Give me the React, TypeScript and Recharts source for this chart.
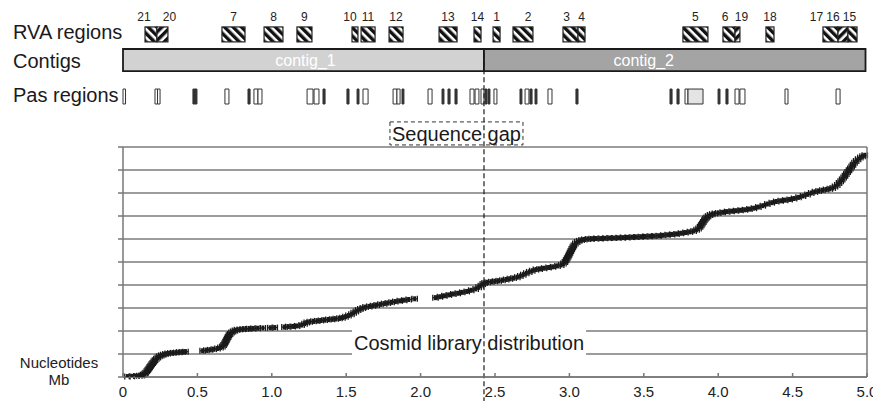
import React from 'react';
import {
  ScatterChart,
  Scatter,
  XAxis,
  YAxis,
  CartesianGrid,
  ReferenceArea,
  ReferenceLine,
  ErrorBar,
} from 'recharts';

// x is genome position (Mb), y is the cosmid rank in grid units (0..10)
const xTicks = [0, 0.5, 1, 1.5, 2, 2.5, 3, 3.5, 4, 4.5, 5];
const yTicks = [0, 1, 2, 3, 4, 5, 6, 7, 8, 9, 10];

const cosmidPoints: [number, number][] = [
  [0.03, 0.02], [0.06, 0.03], [0.09, 0.04], [0.11, 0.05],
  [0.125, 0.07], [0.135, 0.1], [0.145, 0.14], [0.152, 0.19], [0.16, 0.25], [0.167, 0.31],
  [0.174, 0.37], [0.18, 0.43], [0.186, 0.49], [0.193, 0.55], [0.2, 0.61], [0.207, 0.67],
  [0.215, 0.73], [0.224, 0.79], [0.234, 0.85], [0.245, 0.9], [0.257, 0.94], [0.27, 0.97], [0.285, 1.0],
  [0.3, 1.02], [0.318, 1.04], [0.338, 1.05], [0.358, 1.06], [0.378, 1.08], [0.4, 1.09], [0.42, 1.1],
  [0.535, 1.14], [0.56, 1.16], [0.585, 1.18], [0.61, 1.21], [0.635, 1.24], [0.655, 1.28], [0.668, 1.33],
  [0.676, 1.39], [0.683, 1.46], [0.689, 1.53], [0.695, 1.6], [0.7, 1.67], [0.706, 1.74],
  [0.712, 1.81], [0.72, 1.87], [0.729, 1.93], [0.74, 1.98], [0.752, 2.02], [0.766, 2.05],
  [0.785, 2.07], [0.805, 2.08], [0.825, 2.09], [0.848, 2.1], [0.875, 2.11], [0.905, 2.12],
  [0.94, 2.13], [0.99, 2.14], [1.02, 2.15],
  [1.085, 2.17], [1.11, 2.19], [1.14, 2.2], [1.17, 2.22], [1.2, 2.26], [1.22, 2.32], [1.235, 2.37],
  [1.255, 2.4], [1.28, 2.42], [1.305, 2.44], [1.33, 2.46], [1.355, 2.48], [1.38, 2.5], [1.405, 2.51],
  [1.43, 2.53], [1.455, 2.55],
  [1.475, 2.58], [1.495, 2.62], [1.515, 2.67], [1.535, 2.73], [1.55, 2.79], [1.565, 2.85],
  [1.58, 2.91], [1.595, 2.96], [1.612, 3.0], [1.63, 3.04],
  [1.655, 3.07], [1.68, 3.1], [1.705, 3.13], [1.73, 3.16], [1.755, 3.19], [1.78, 3.22],
  [1.805, 3.25], [1.83, 3.28], [1.86, 3.31], [1.89, 3.34], [1.92, 3.37], [1.96, 3.4],
  [2.1, 3.45], [2.13, 3.49], [2.16, 3.53], [2.19, 3.57], [2.22, 3.61], [2.25, 3.64], [2.28, 3.68],
  [2.31, 3.72], [2.34, 3.77], [2.37, 3.83], [2.39, 3.9], [2.405, 3.97], [2.418, 4.04], [2.43, 4.09],
  [2.45, 4.12], [2.475, 4.14], [2.5, 4.16], [2.525, 4.18], [2.55, 4.21], [2.575, 4.24], [2.6, 4.27],
  [2.625, 4.3], [2.65, 4.34], [2.67, 4.39], [2.69, 4.45], [2.71, 4.51], [2.73, 4.57], [2.75, 4.62],
  [2.775, 4.67], [2.8, 4.7], [2.83, 4.73], [2.86, 4.76], [2.89, 4.79], [2.92, 4.83], [2.945, 4.87],
  [2.96, 4.93], [2.97, 5.0], [2.978, 5.08], [2.985, 5.16], [2.992, 5.24], [2.998, 5.32], [3.004, 5.4],
  [3.01, 5.48], [3.016, 5.56], [3.023, 5.64], [3.03, 5.72], [3.04, 5.8], [3.052, 5.87], [3.066, 5.92],
  [3.082, 5.96],
  [3.1, 5.98], [3.125, 6.0], [3.15, 6.01], [3.18, 6.02], [3.21, 6.02], [3.24, 6.03], [3.27, 6.04],
  [3.3, 6.04], [3.33, 6.05], [3.36, 6.06], [3.39, 6.07], [3.42, 6.08], [3.45, 6.09], [3.48, 6.1],
  [3.51, 6.11], [3.54, 6.12], [3.57, 6.13], [3.6, 6.14], [3.63, 6.16], [3.66, 6.18], [3.69, 6.2],
  [3.72, 6.22], [3.75, 6.25], [3.78, 6.28], [3.81, 6.31], [3.835, 6.35], [3.855, 6.4],
  [3.868, 6.46], [3.878, 6.53], [3.886, 6.6], [3.893, 6.67], [3.9, 6.74], [3.907, 6.81],
  [3.914, 6.88], [3.922, 6.94], [3.932, 6.99], [3.945, 7.04], [3.96, 7.08], [3.978, 7.11],
  [4.0, 7.13], [4.03, 7.16], [4.06, 7.19], [4.09, 7.21], [4.12, 7.23], [4.15, 7.25], [4.18, 7.27],
  [4.21, 7.3], [4.24, 7.34], [4.27, 7.39], [4.3, 7.45], [4.33, 7.52], [4.36, 7.58], [4.39, 7.63],
  [4.42, 7.66], [4.45, 7.69], [4.48, 7.72], [4.51, 7.76], [4.54, 7.81], [4.57, 7.87], [4.6, 7.94],
  [4.625, 8.0], [4.65, 8.05], [4.675, 8.09], [4.7, 8.12], [4.725, 8.15], [4.75, 8.18],
  [4.77, 8.22], [4.785, 8.28], [4.8, 8.35], [4.812, 8.43], [4.823, 8.51], [4.833, 8.59],
  [4.843, 8.67], [4.852, 8.75], [4.861, 8.83], [4.87, 8.91], [4.879, 8.99], [4.888, 9.07],
  [4.897, 9.15], [4.906, 9.23], [4.916, 9.31], [4.927, 9.39], [4.94, 9.47], [4.955, 9.54],
  [4.97, 9.6], [4.985, 9.64],
];
const cosmidHalfSpan = 0.018;

// RVA regions (Mb), hatch direction as drawn
const rvaRegions = [
  { id: '21', start: 0.148, end: 0.228, hatch: '\\' },
  { id: '20', start: 0.228, end: 0.302, hatch: '/' },
  { id: '7', start: 0.665, end: 0.82, hatch: '\\' },
  { id: '8', start: 0.948, end: 1.075, hatch: '\\' },
  { id: '9', start: 1.169, end: 1.27, hatch: '\\' },
  { id: '10', start: 1.539, end: 1.579, hatch: '\\' },
  { id: '11', start: 1.6, end: 1.694, hatch: '\\' },
  { id: '12', start: 1.788, end: 1.882, hatch: '\\' },
  { id: '13', start: 2.124, end: 2.245, hatch: '\\' },
  { id: '14', start: 2.359, end: 2.406, hatch: '\\' },
  { id: '1', start: 2.487, end: 2.534, hatch: '\\' },
  { id: '2', start: 2.621, end: 2.755, hatch: '\\' },
  { id: '3', start: 2.957, end: 3.058, hatch: '\\' },
  { id: '4', start: 3.058, end: 3.105, hatch: '\\' },
  { id: '5', start: 3.763, end: 3.931, hatch: '\\' },
  { id: '6', start: 4.032, end: 4.113, hatch: '\\' },
  { id: '19', start: 4.113, end: 4.146, hatch: '/' },
  { id: '18', start: 4.321, end: 4.375, hatch: '\\' },
  { id: '17', start: 4.704, end: 4.805, hatch: '\\' },
  { id: '16', start: 4.805, end: 4.872, hatch: '/' },
  { id: '15', start: 4.872, end: 4.933, hatch: '\\' },
];

const contigs = [
  { name: 'contig_1', start: 0, end: 2.426 },
  { name: 'contig_2', start: 2.426, end: 4.99 },
];

// Pas regions (Mb); shaded = grey filled box
const pasRegions = [
  { start: 0.0, end: 0.017 },
  { start: 0.215, end: 0.232 }, { start: 0.232, end: 0.249 },
  { start: 0.47, end: 0.484 }, { start: 0.484, end: 0.497 },
  { start: 0.685, end: 0.712 },
  { start: 0.84, end: 0.854 }, { start: 0.88, end: 0.907 }, { start: 0.907, end: 0.934 },
  { start: 1.237, end: 1.277 }, { start: 1.284, end: 1.317 }, { start: 1.344, end: 1.358 },
  { start: 1.505, end: 1.519 }, { start: 1.573, end: 1.586 }, { start: 1.613, end: 1.647 },
  { start: 1.815, end: 1.841 }, { start: 1.841, end: 1.862 }, { start: 1.875, end: 1.888 },
  { start: 2.05, end: 2.077 }, { start: 2.144, end: 2.157 }, { start: 2.184, end: 2.198 },
  { start: 2.231, end: 2.245 },
  { start: 2.332, end: 2.359 }, { start: 2.366, end: 2.392 }, { start: 2.406, end: 2.426 },
  { start: 2.433, end: 2.446 }, { start: 2.453, end: 2.466 }, { start: 2.493, end: 2.513 },
  { start: 2.668, end: 2.681 }, { start: 2.702, end: 2.728 }, { start: 2.735, end: 2.749 },
  { start: 2.769, end: 2.782 },
  { start: 2.856, end: 2.883 },
  { start: 3.044, end: 3.058 },
  { start: 3.676, end: 3.69 }, { start: 3.723, end: 3.737 }, { start: 3.777, end: 3.797 },
  { start: 3.797, end: 3.898, shaded: true },
  { start: 3.999, end: 4.012 }, { start: 4.052, end: 4.066 }, { start: 4.113, end: 4.14 },
  { start: 4.146, end: 4.18 },
  { start: 4.449, end: 4.469 },
  { start: 4.792, end: 4.819 },
];

const gapPosition = 2.426;
const gapBox = { x1: 1.794, x2: 2.688 };
const cosmidLabelBox = { x1: 1.539, x2: 3.112 };

// layout: track rows sit above the plot, in y-axis units
const FONT = '"Liberation Sans", Arial, Helvetica, sans-serif';
const ROWS = {
  rva: [14.57, 15.22],
  contig: [13.3, 14.26],
  pas: [11.87, 12.52],
  gap: [10.09, 11.09],
  cosmidLabel: [0.95, 2.05],
};
const rvaLabelNudge: Record<string, number> = {
  '21': -7, '20': 7, '10': -5, '2': 5, '3': -4, '6': -4, '19': 4, '17': -14, '16': -10, '15': -3,
};
const contigLabelNudge: Record<string, number> = { contig_1: 2, contig_2: -31 };

const cosmidData = cosmidPoints.map(([x, y]) => ({ x, y, err: cosmidHalfSpan }));

const HatchBox = (props: any) => {
  const { x, y, width, height, hatch, pid } = props;
  if (x == null || y == null) return null;
  return (
    <g>
      <defs>
        <pattern
          id={pid}
          patternUnits="userSpaceOnUse"
          width={6}
          height={6}
          patternTransform={`rotate(${hatch === '/' ? 45 : -45})`}
        >
          <rect x={0} y={0} width={3.4} height={6} fill="#111" />
        </pattern>
      </defs>
      <rect x={x} y={y} width={width} height={height} fill="#fff" />
      <rect x={x} y={y} width={width} height={height} fill={`url(#${pid})`} stroke="#222" strokeWidth={1.2} />
    </g>
  );
};

const rowLabel = (text: string, dy: number) => (p: any) => {
  const vb = p.viewBox;
  if (!vb) return null;
  return (
    <text x={vb.x - 110} y={vb.y + vb.height / 2 + dy} fontSize={20} fill="#1a1a1a" fontFamily={FONT}>
      {text}
    </text>
  );
};

const NucleotidesLabel = (p: any) => {
  const vb = p.viewBox;
  if (!vb) return null;
  return (
    <text x={vb.x - 64} textAnchor="middle" fontSize={15} fill="#222" fontFamily={FONT}>
      <tspan x={vb.x - 64} y={vb.y - 9}>Nucleotides</tspan>
      <tspan x={vb.x - 64} y={vb.y + 8}>Mb</tspan>
    </text>
  );
};

export default function App() {
  return (
    <div style={{ width: 873, height: 401, background: '#fff', fontFamily: FONT }}>
      <style>{'body{margin:0}'}</style>
      <ScatterChart width={873} height={401} margin={{ top: 147, right: 6, bottom: 0, left: 118 }}>
        <CartesianGrid
          vertical={false}
          horizontalValues={yTicks}
          stroke="#3a3a3a"
          strokeWidth={1.2}
        />
        <XAxis
          type="number"
          dataKey="x"
          domain={[0, 5]}
          ticks={xTicks}
          interval={0}
          allowDataOverflow
          height={24}
          tickSize={-4}
          tickMargin={13}
          stroke="#777"
          strokeWidth={1.5}
          tick={{ fontSize: 15, fill: '#222' }}
          tickFormatter={(v: number) => (v === 0 ? '0' : v.toFixed(1))}
          label={{ content: NucleotidesLabel }}
        />
        <YAxis
          type="number"
          dataKey="y"
          domain={[0, 10]}
          ticks={yTicks}
          interval={0}
          allowDataOverflow
          width={5}
          tickFormatter={() => ''}
          tickSize={5}
          stroke="#777"
          strokeWidth={1.5}
        />

        {/* row labels */}
        <ReferenceArea x1={0} x2={5} y1={ROWS.rva[0]} y2={ROWS.rva[1]} ifOverflow="visible" fillOpacity={0} stroke="none"
          label={{ content: rowLabel('RVA regions', 4.5) }} />
        <ReferenceArea x1={0} x2={5} y1={ROWS.contig[0]} y2={ROWS.contig[1]} ifOverflow="visible" fillOpacity={0} stroke="none"
          label={{ content: rowLabel('Contigs', 8) }} />
        <ReferenceArea x1={0} x2={5} y1={ROWS.pas[0]} y2={ROWS.pas[1]} ifOverflow="visible" fillOpacity={0} stroke="none"
          label={{ content: rowLabel('Pas regions', 5.5) }} />

        {rvaRegions.map((r, i) => (
          <ReferenceArea
            key={`rva-${r.id}`}
            x1={r.start}
            x2={r.end}
            y1={ROWS.rva[0]}
            y2={ROWS.rva[1]}
            ifOverflow="visible"
            shape={(p: any) => <HatchBox {...p} hatch={r.hatch} pid={`hatch-${i}`} />}
            label={{
              content: (lp: any) => {
                const vb = lp.viewBox;
                if (!vb) return null;
                return (
                  <text
                    x={vb.x + vb.width / 2 + (rvaLabelNudge[r.id] || 0)}
                    y={vb.y - 6}
                    textAnchor="middle"
                    fontSize={12}
                    fill="#222"
                    fontFamily={FONT}
                  >
                    {r.id}
                  </text>
                );
              },
            }}
          />
        ))}

        {contigs.map((c, i) => (
          <ReferenceArea
            key={c.name}
            x1={c.start}
            x2={c.end}
            y1={ROWS.contig[0]}
            y2={ROWS.contig[1]}
            ifOverflow="visible"
            fill={i === 0 ? '#d2d2d2' : '#a4a4a4'}
            fillOpacity={1}
            stroke="#1a1a1a"
            strokeWidth={1.8}
            label={{
              content: (lp: any) => {
                const vb = lp.viewBox;
                if (!vb) return null;
                return (
                  <text
                    x={vb.x + vb.width / 2 + contigLabelNudge[c.name]}
                    y={vb.y + vb.height / 2 + 5.5}
                    textAnchor="middle"
                    fontSize={16}
                    fill="#fff"
                    fontFamily={FONT}
                  >
                    {c.name}
                  </text>
                );
              },
            }}
          />
        ))}

        {pasRegions.map((p, i) => (
          <ReferenceArea
            key={`pas-${i}`}
            x1={p.start}
            x2={p.end}
            y1={ROWS.pas[0]}
            y2={ROWS.pas[1]}
            ifOverflow="visible"
            fill={p.shaded ? '#e4e4e4' : p.end - p.start < 0.016 ? '#333' : '#fff'}
            fillOpacity={1}
            stroke="#333"
            strokeWidth={1}
          />
        ))}

        <ReferenceArea
          x1={gapBox.x1}
          x2={gapBox.x2}
          y1={ROWS.gap[0]}
          y2={ROWS.gap[1]}
          ifOverflow="visible"
          fill="#fff"
          fillOpacity={1}
          stroke="#333"
          strokeDasharray="4 3"
          label={{ value: 'Sequence gap', position: 'center', fontSize: 20, fill: '#1a1a1a' }}
        />
        <ReferenceArea
          x1={cosmidLabelBox.x1}
          x2={cosmidLabelBox.x2}
          y1={ROWS.cosmidLabel[0]}
          y2={ROWS.cosmidLabel[1]}
          ifOverflow="visible"
          fill="#fff"
          fillOpacity={1}
          stroke="none"
          label={{ value: 'Cosmid library distribution', position: 'center', fontSize: 20, fill: '#1a1a1a' }}
        />

        <Scatter
          data={cosmidData}
          isAnimationActive={false}
          shape={(p: any) => (
            <rect x={p.cx - 1.5} y={p.cy - 2.5} width={3} height={5} fill="#1a1a1a" />
          )}
        >
          <ErrorBar dataKey="err" direction="x" width={3} stroke="#1a1a1a" strokeWidth={1.3} isAnimationActive={false} />
        </Scatter>

        <ReferenceLine x={5} stroke="#777" strokeWidth={1.5} />
        <ReferenceLine
          segment={[{ x: gapPosition, y: -1.1 }, { x: gapPosition, y: ROWS.contig[1] }]}
          ifOverflow="visible"
          stroke="#1a1a1a"
          strokeWidth={1.2}
          strokeDasharray="5 3"
        />
      </ScatterChart>
    </div>
  );
}
